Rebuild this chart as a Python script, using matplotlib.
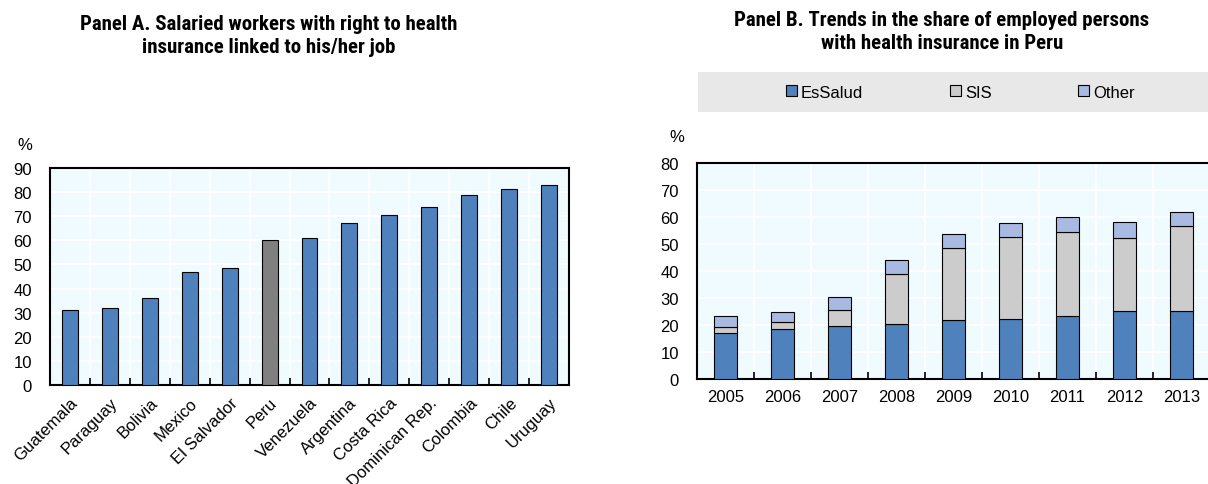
import matplotlib
matplotlib.use("Agg")
import matplotlib.pyplot as plt
from matplotlib.patches import Rectangle
import numpy as np

plt.rcParams['font.family'] = ['Liberation Sans', 'DejaVu Sans']
TITLE_FONT = ['Liberation Sans Narrow', 'Arial Narrow', 'Roboto Condensed', 'Liberation Sans']

# Panel A data
countries = ["Guatemala", "Paraguay", "Bolivia", "Mexico", "El Salvador", "Peru",
             "Venezuela", "Argentina", "Costa Rica", "Dominican Rep.", "Colombia",
             "Chile", "Uruguay"]
salaried = [31.2, 31.8, 36.2, 46.9, 48.7, 60.1, 61.0, 67.1, 70.7, 73.9, 78.6, 81.3, 82.8]

# Panel B data (shares of employed persons, %)
years = ["2005", "2006", "2007", "2008", "2009", "2010", "2011", "2012", "2013"]
essalud = [16.9, 18.4, 19.6, 20.5, 21.9, 22.2, 23.4, 25.2, 25.2]
sis = [2.5, 2.8, 5.8, 18.3, 26.6, 30.3, 31.0, 27.2, 31.4]
other = [3.9, 3.8, 4.8, 5.1, 5.3, 5.2, 5.6, 5.9, 5.4]

BLUE = "#4F81BD"
GREY = "#808080"
SISC = "#CCCCCC"
OTH = "#A8B9E2"
BG = "#EFFBFF"
FS = 12
TFS = 15

W, H = 1208, 485
fig = plt.figure(figsize=(W / 100, H / 100), dpi=100)

def style(ax, n, ymax):
    ax.set_facecolor(BG)
    ax.set_ylim(0, ymax)
    ax.set_yticks(np.arange(0, ymax + 1, 10))
    ax.tick_params(axis='y', length=0, labelsize=FS, pad=13)
    ax.set_xticks(np.arange(n))
    ax.set_xticks(np.arange(n + 1) - 0.5, minor=True)
    ax.tick_params(axis='x', which='major', length=0, labelsize=FS, pad=7)
    ax.tick_params(axis='x', which='minor', direction='in', length=5, width=1.2)
    ax.set_axisbelow(True)
    ax.grid(axis='y', color='white', lw=1.2)
    ax.grid(axis='x', which='minor', color='white', lw=1.2)
    for s in ax.spines.values():
        s.set_linewidth(1.5)

# ---------------- Panel A ----------------
axA = fig.add_axes([50 / W, 1 - 386 / H, (569 - 50) / W, (386 - 169) / H])
x = np.arange(len(countries))
colorsA = [GREY if c == "Peru" else BLUE for c in countries]
axA.bar(x, salaried, width=0.4, color=colorsA, edgecolor='black', linewidth=0.8, zorder=3)
axA.set_xlim(-0.5, len(countries) - 0.5)
style(axA, len(countries), 90)
axA.set_xticklabels(countries, rotation=45, ha='right', rotation_mode='anchor')
fig.text(25 / W, 1 - 145 / H, "%", fontsize=FS, ha='center', va='center')
fig.text(269 / W, 1 - 30 / H, "Panel A. Salaried workers with right to health",
         fontsize=TFS, fontweight='bold', ha='center', va='baseline', family=TITLE_FONT)
fig.text(269 / W, 1 - 53 / H, "insurance linked to his/her job",
         fontsize=TFS, fontweight='bold', ha='center', va='baseline', family=TITLE_FONT)

# ---------------- Panel B ----------------
axB = fig.add_axes([697 / W, 1 - 380 / H, (1210 - 697) / W, (380 - 164) / H])
xb = np.arange(len(years))
b1 = axB.bar(xb, essalud, width=0.4, color=BLUE, edgecolor='black', linewidth=0.8, zorder=3, label="EsSalud")
b2 = axB.bar(xb, sis, width=0.4, bottom=essalud, color=SISC, edgecolor='black', linewidth=0.8, zorder=3, label="SIS")
bot = np.array(essalud) + np.array(sis)
b3 = axB.bar(xb, other, width=0.4, bottom=bot, color=OTH, edgecolor='black', linewidth=0.8, zorder=3, label="Other")
style(axB, len(years), 80)
axB.set_xlim(-0.5, len(years) - 0.5)
axB.set_xticklabels(years)
fig.text(677 / W, 1 - 138 / H, "%", fontsize=FS, ha='center', va='center')
fig.text(942 / W, 1 - 26 / H, "Panel B. Trends in the share of employed persons",
         fontsize=TFS, fontweight='bold', ha='center', va='baseline', family=TITLE_FONT)
fig.text(942 / W, 1 - 49 / H, "with health insurance in Peru",
         fontsize=TFS, fontweight='bold', ha='center', va='baseline', family=TITLE_FONT)

# legend band
fig.patches.append(Rectangle((698 / W, 1 - 113 / H), (W - 698) / W, 40 / H,
                             transform=fig.transFigure, facecolor='#E8E8E8', edgecolor='none', zorder=0))
fig.legend(handles=[b1, b2, b3], loc='center left', bbox_to_anchor=(786 / W, 1 - 93 / H),
           ncol=3, frameon=False, fontsize=FS, handlelength=0.64, handleheight=0.64,
           handletextpad=0.26, columnspacing=5.2, borderaxespad=0, borderpad=0)

fig.savefig("out.png", dpi=100)
